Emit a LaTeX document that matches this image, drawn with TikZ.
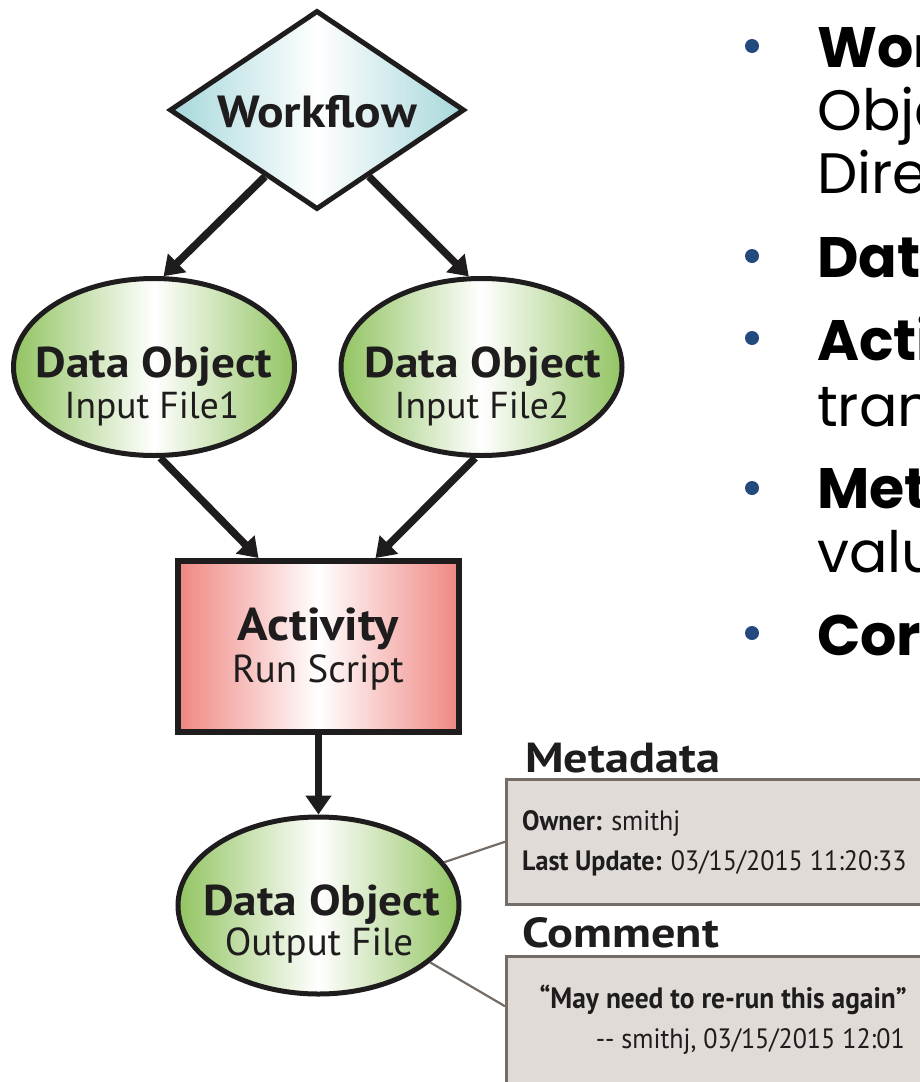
\documentclass[tikz,border=0pt]{standalone}
\usepackage{fontspec}
\setmainfont{PT Sans}
\newfontfamily\gothic{Poppins}
\newfontfamily\diagb[FakeStretch=1.1]{PT Sans}
\newfontfamily\headf[FakeStretch=1.15]{PT Sans}
\newfontfamily\cond[FakeStretch=0.93]{PT Sans}
\usetikzlibrary{shapes.geometric,arrows.meta}
\definecolor{ink}{HTML}{1E1C1C}
\definecolor{teal}{HTML}{A6D7DB}
\definecolor{leaf}{HTML}{92C462}
\definecolor{rose}{HTML}{EF8681}
\definecolor{boxfill}{HTML}{E0DBD7}
\definecolor{boxline}{HTML}{746C67}
\definecolor{bulletblue}{HTML}{23497F}
\tikzset{
  wfshape/.style={diamond, draw=ink, line width=5pt, inner sep=0pt,
    minimum width=295pt, minimum height=199pt,
    left color=teal, right color=teal, middle color=white},
  dataobj/.style={ellipse, draw=ink, line width=5pt, inner sep=0pt,
    minimum width=281pt, minimum height=177pt,
    left color=leaf, right color=leaf, middle color=white},
  actbox/.style={rectangle, draw=ink, line width=6pt, inner sep=0pt,
    minimum width=281pt, minimum height=171pt,
    left color=rose, right color=rose, middle color=white},
  notebox/.style={rectangle, draw=boxline, fill=boxfill, line width=2.5pt,
    inner sep=0pt, anchor=north west, minimum width=440pt},
  arr/.style={draw=ink, line width=7.5pt,
    -{Triangle[length=19pt,width=25pt]}},
  conn/.style={draw=boxline, line width=2.2pt},
  lblb/.style={font=\diagb\bfseries\fontsize{43}{43}\selectfont, text=ink, anchor=base, inner sep=0pt},
  lblr/.style={font=\fontsize{37.5}{37.5}\selectfont, text=ink, anchor=base, inner sep=0pt},
  headb/.style={font=\headf\bfseries\fontsize{42}{42}\selectfont, text=ink, anchor=base west, inner sep=0pt},
  notetxt/.style={font=\cond\fontsize{28}{28}\selectfont, text=ink, inner sep=0pt},
  bulletdot/.style={circle, fill=bulletblue, minimum size=14pt, inner sep=0pt},
  gb/.style={font=\gothic\bfseries\fontsize{57}{57}\selectfont, text=black, anchor=base west, inner sep=0pt},
  gr/.style={font=\gothic\fontsize{57}{57}\selectfont, text=black, anchor=base west, inner sep=0pt},
}
\begin{document}
\begin{tikzpicture}[x=1pt,y=-1pt]
\useasboundingbox (0,0) rectangle (920,1082);
\clip (0,0) rectangle (920,1082);

% shapes
\node[wfshape] (wf) at (317,110) {};
\node[dataobj] (in1) at (154,367) {};
\node[dataobj] (in2) at (481.5,367) {};
\node[actbox] (act) at (318.5,646.5) {};
\node[dataobj] (out) at (318.5,905.5) {};

% labels
\node[lblb, font=\diagb\bfseries\fontsize{45}{45}\selectfont] (wft) at (317,127) {Workflow};
\node[lblb] (in1a) at (154,377) {Data Object};
\node[lblr] (in1b) at (152,418) {Input File1};
\node[lblb] (in2a) at (483,377) {Data Object};
\node[lblr] (in2b) at (482,418) {Input File2};
\node[lblb, font=\diagb\bfseries\fontsize{46}{46}\selectfont] (acta) at (318.5,640) {Activity};
\node[lblr, font=\fontsize{39}{39}\selectfont] (actb) at (318,682) {Run Script};
\node[lblb] (outa) at (321.5,915) {Data Object};
\node[lblr, font=\fontsize{39}{39}\selectfont] (outb) at (319,955) {Output File};

% connectors
\draw[arr] (wf.232) -- (in1.84);
\draw[arr] (wf.308) -- (in2.98);
\draw[arr] (in1.-86) -- ([xshift=-60pt]act.north);
\draw[arr] (in2.-94) -- ([xshift=57pt]act.north);
\draw[arr] (act) -- (out);

% notes
\node[headb] (mh) at (525,772) {Metadata};
\node[notebox, minimum height=125pt] (meta) at (505,778) {};
\node[notetxt, anchor=base west] (m1) at (522,830) {\textbf{Owner:} smithj};
\node[notetxt, anchor=base west] (m2) at (522,870) {\textbf{Last Update:} 03/15/2015 11:20:33};
\node[headb] (ch) at (522,947) {Comment};
\node[notebox, minimum height=140pt] (com) at (505,955) {};
\node[notetxt, anchor=base east, font=\cond\fontsize{29.5}{29.5}\selectfont] (c1) at (907,1008) {\textbf{“May need to re-run this again”}};
\node[notetxt, anchor=base east] (c2) at (905,1048) {-{}- smithj, 03/15/2015 12:01};
\draw[conn] (out.19) -- (meta.west);
\draw[conn] (out.-27) -- ([yshift=20pt]com.west);

% bullet list (cut at the right edge)
\node[bulletdot] (b1) at (752,46) {};
\node[gb] (t1) at (817,67) {Wor};
\node[gr] (t2) at (817,130) {Obje};
\node[gr] (t3) at (817,193) {Direc};
\node[bulletdot] (b2) at (752,256) {};
\node[gb] (t4) at (817,277) {Data};
\node[bulletdot] (b3) at (752,338) {};
\node[gb] (t5) at (817,360) {Acti};
\node[gr] (t6) at (817,426) {trans};
\node[bulletdot] (b4) at (752,488) {};
\node[gb] (t7) at (817,508) {Met};
\node[gr] (t8) at (817,572) {valu};
\node[bulletdot] (b5) at (752,633) {};
\node[gb] (t9) at (817,655) {Cor};
\end{tikzpicture}
\end{document}
